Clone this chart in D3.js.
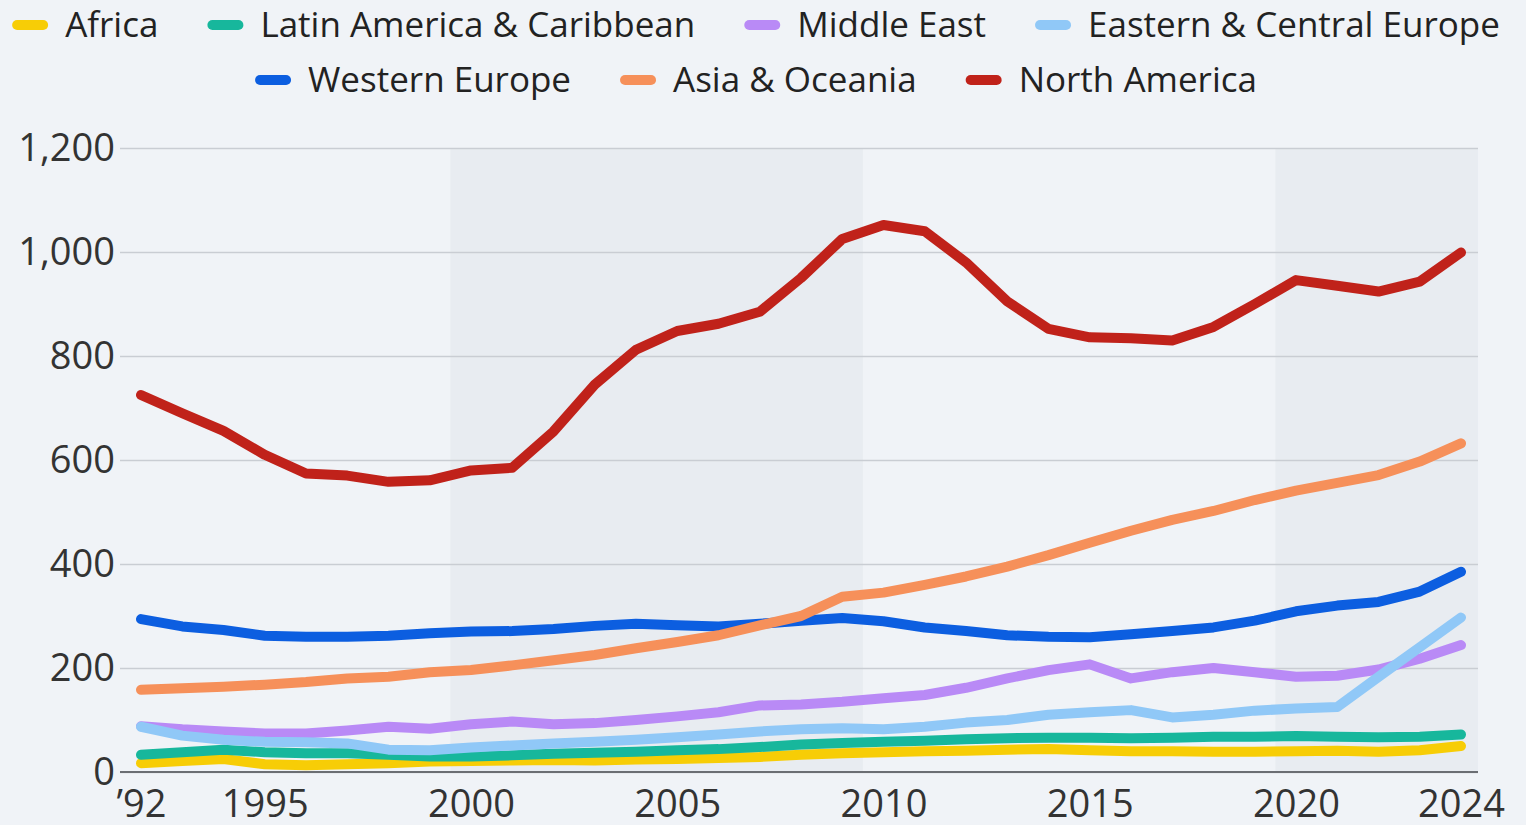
<!DOCTYPE html>
<html>
<head>
<meta charset="utf-8">
<script src="https://cdn.jsdelivr.net/npm/d3@7"></script>
<style>
  body { margin: 0; background: #f0f3f7; }
  svg { display: block; }
</style>
</head>
<body>
<svg id="chart" width="1526" height="825"></svg>
<script>
// years on the x axis
var years = d3.range(1992, 2025);

var regions = ["Africa", "Latin America & Caribbean", "Middle East", "Eastern & Central Europe",
               "Western Europe", "Asia & Oceania", "North America"];
var colors = ["#f7cd06", "#17b79c", "#b98af6", "#90c8f7", "#0c5ee0", "#f6905a", "#c0221a"];

var africa = [17, 21, 25, 15, 13, 15, 17, 20, 21, 22, 23, 22, 24, 25, 27, 29, 33, 36, 38, 40, 41,
              43, 44, 42, 40, 40, 39, 39, 40, 41, 39, 42, 50];
var latinAmerica = [33, 38, 43, 38, 36, 36, 33, 30, 30, 32, 35, 37, 39, 42, 44, 48, 53, 56, 58, 60, 63,
                    65, 66, 66, 65, 66, 68, 68, 69, 68, 67, 68, 72];
var middleEast = [88, 82, 78, 74, 74, 80, 87, 83, 92, 97, 92, 94, 100, 107, 115, 128, 130, 135, 142, 148, 162,
                  180, 196, 207, 180, 192, 200, 192, 183, 185, 197, 218, 244];
var easternEurope = [87, 70, 62, 58, 57, 55, 43, 42, 47, 51, 55, 58, 62, 67, 72, 78, 82, 84, 82, 87, 95,
                     100, 110, 115, 119, 105, 110, 118, 122, 125, 183, 240, 297];
var westernEurope = [294, 280, 273, 262, 260, 260, 262, 267, 270, 271, 275, 281, 285, 282, 280, 285, 291, 296, 290, 278, 271,
                     263, 260, 259, 265, 271, 278, 291, 309, 320, 327, 347, 385];
var asiaOceania = [158, 161, 164, 168, 173, 180, 183, 192, 196, 205, 215, 225, 238, 250, 263, 282, 300, 337, 345, 360, 376,
                   395, 417, 441, 464, 485, 502, 523, 541, 556, 571, 597, 632];
var northAmerica = [725, 690, 656, 610, 574, 570, 558, 561, 580, 585, 655, 745, 812, 848, 862, 885, 950, 1025, 1052, 1040, 980,
                    905, 852, 836, 834, 830, 856, 900, 946, 935, 924, 943, 999];

var seriesValues = [africa, latinAmerica, middleEast, easternEurope, westernEurope, asiaOceania, northAmerica];

var yTicks = [0, 200, 400, 600, 800, 1000, 1200];
var xTicks = [1992, 1995, 2000, 2005, 2010, 2015, 2020, 2024];
// shaded year ranges in the background
var bands = [[1999.5, 2009.5], [2019.5, 2024.41]];

(function() {
  var svg = d3.select("#chart");
  var left = 120, right = 1478, plotTop = 148, bottom = 772;

  var x = d3.scaleLinear().domain([1992, 2024]).range([141, 1461]);
  var y = d3.scaleLinear().domain([0, 1200]).range([bottom, plotTop]);

  // background bands
  svg.selectAll("rect.band")
    .data(bands)
    .enter().append("rect")
    .attr("class", "band")
    .attr("x", function(d) { return x(d[0]); })
    .attr("width", function(d) { return x(d[1]) - x(d[0]); })
    .attr("y", plotTop)
    .attr("height", bottom - plotTop)
    .style("fill", "#e8ecf1");

  // gridlines and y labels
  var yAxis = d3.axisLeft(y)
    .tickValues(yTicks)
    .tickSize(-(right - left))
    .tickPadding(5)
    .tickFormat(d3.format(","));

  var gy = svg.append("g")
    .attr("transform", "translate(" + left + ",0)")
    .call(yAxis);
  gy.select(".domain").remove();
  gy.selectAll(".tick line")
    .style("stroke", "#c9cdd3")
    .style("stroke-width", 1.5);
  gy.selectAll(".tick text")
    .style("font-family", "'Open Sans', sans-serif")
    .style("font-size", "38px")
    .style("fill", "#333");

  // x axis
  var xAxis = d3.axisBottom(x)
    .tickValues(xTicks)
    .tickSize(0)
    .tickPadding(18)
    .tickFormat(function(d) { return d === 1992 ? "\u201992" : d; });

  var gx = svg.append("g")
    .attr("transform", "translate(0," + bottom + ")")
    .call(xAxis);
  gx.select(".domain").remove();
  gx.selectAll(".tick text")
    .style("font-family", "'Open Sans', sans-serif")
    .style("font-size", "38px")
    .style("fill", "#333");

  svg.append("line")
    .attr("x1", left).attr("x2", right)
    .attr("y1", bottom).attr("y2", bottom)
    .style("stroke", "#6b6e73")
    .style("stroke-width", 2);

  // the lines
  var line = d3.line()
    .x(function(d, i) { return x(years[i]); })
    .y(function(d) { return y(d); });

  svg.selectAll("path.series")
    .data(seriesValues)
    .enter().append("path")
    .attr("class", "series")
    .attr("d", line)
    .style("fill", "none")
    .style("stroke", function(d, i) { return colors[i]; })
    .style("stroke-width", 10)
    .style("stroke-linejoin", "round")
    .style("stroke-linecap", "round");

  // legend, two centered rows
  var rows = [[0, 1, 2, 3], [4, 5, 6]];
  var rowY = [25, 80];
  var legendCenter = 756;

  rows.forEach(function(row, r) {
    var g = svg.append("g");
    var cx = 0;
    row.forEach(function(idx) {
      g.append("line")
        .attr("x1", cx + 5).attr("x2", cx + 31)
        .attr("y1", rowY[r]).attr("y2", rowY[r])
        .style("stroke", colors[idx])
        .style("stroke-width", 10)
        .style("stroke-linecap", "round");
      var t = g.append("text")
        .attr("x", cx + 53)
        .attr("y", rowY[r] + 12)
        .style("font-family", "'Open Sans', sans-serif")
        .style("font-size", "35px")
        .style("fill", "#222")
        .text(regions[idx]);
      cx += 53 + t.node().getComputedTextLength() + 49;
    });
    var w = cx - 49;
    g.attr("transform", "translate(" + (legendCenter - w / 2) + ",0)");
  });
})();
</script>
</body>
</html>
